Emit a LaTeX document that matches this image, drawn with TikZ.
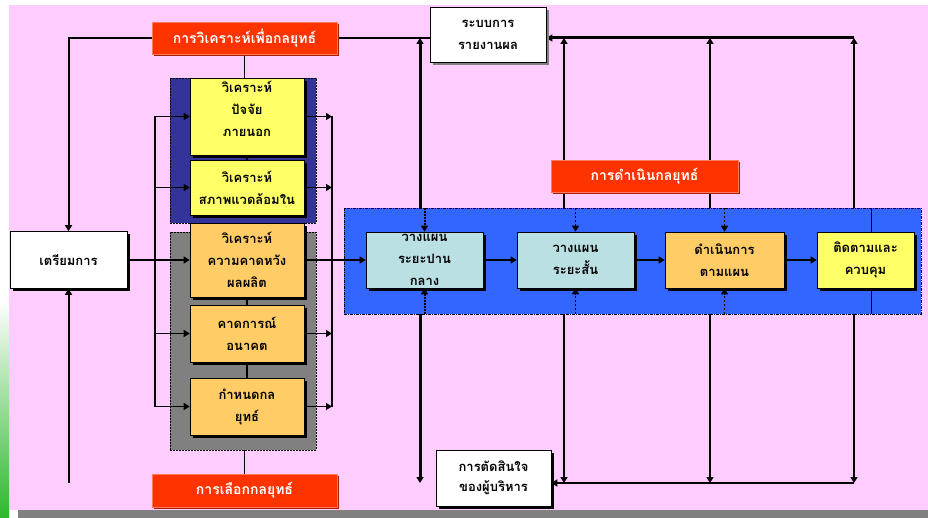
\documentclass[tikz,border=0pt]{standalone}
\usepackage{fontspec}
\setmainfont[Script=Thai]{Loma}
\usetikzlibrary{arrows.meta,shadows}
\definecolor{pinkbg}{HTML}{FFCCFF}
\definecolor{redbox}{HTML}{FF3300}
\definecolor{redrim}{HTML}{FF7A5C}
\definecolor{redshadow}{HTML}{A81C00}
\definecolor{navyframe}{HTML}{333399}
\definecolor{grayframe}{HTML}{808080}
\definecolor{yellowbox}{HTML}{FFFF66}
\definecolor{orangebox}{HTML}{FFCC66}
\definecolor{cyanbox}{HTML}{BBE0E3}
\definecolor{bluezone}{HTML}{3366FF}
\definecolor{leafgreen}{HTML}{2DB82D}
\pgfdeclarelayer{bg}
\pgfdeclarelayer{frames}
\pgfdeclarelayer{lines}
\pgfsetlayers{bg,frames,lines,main}
\tikzset{
  arr/.style={-{Triangle[length=6pt,width=7pt]}},
  blackshadow/.style={drop shadow={fill=black,opacity=1,shadow xshift=3pt,shadow yshift=-3pt}},
  textbox/.style={inner sep=0pt,align=center,font=\fontsize{13}{22}\selectfont\bfseries,
                  draw=black,line width=0.6pt,blackshadow},
  ybox/.style={textbox,fill=yellowbox},
  obox/.style={textbox,fill=orangebox},
  cbox/.style={textbox,fill=cyanbox},
  wbox/.style={textbox,fill=white},
  redtitle/.style={inner sep=0pt,align=center,fill=redbox,draw=redrim,line width=0.8pt,
                   text=white,font=\fontsize{14}{16}\selectfont\bfseries,
                   minimum height=32pt,
                   drop shadow={fill=redshadow,opacity=1,shadow xshift=2pt,shadow yshift=-2pt}},
  frame/.style={inner sep=0pt,draw=black,line width=0.8pt,dash pattern=on 2pt off 1pt},
}
\begin{document}
\begin{tikzpicture}[x=1pt,y=-1pt]
\useasboundingbox (0,0) rectangle (928,518);
\begin{pgfonlayer}{bg}
  \fill[white] (0,0) rectangle (928,518);
  \fill[pinkbg] (9,5) rectangle (928,510);
  \fill[grayframe] (18,510) rectangle (928,518);
  \shade[top color=white,bottom color=leafgreen] (0,300) rectangle (9,518);
\end{pgfonlayer}

% group frames and the blue zone
\begin{pgfonlayer}{frames}
  \node[frame,fill=navyframe,minimum width=146pt,minimum height=145pt] (BF) at (243,150.5) {};
  \node[frame,fill=grayframe,minimum width=146pt,minimum height=218pt] (GF) at (243,341) {};
  \node[inner sep=0pt,fill=bluezone,draw=black,line width=0.8pt,dash pattern=on 3pt off 1pt on 1pt off 1pt,
        minimum width=577pt,minimum height=106pt] (BL) at (632.5,261) {};
\end{pgfonlayer}

% titles
\node[redtitle,minimum width=185pt] (TR) at (244.5,38) {การวิเคราะห์เพื่อกลยุทธ์};
\node[redtitle,minimum width=187pt] (MR) at (644.5,176) {การดำเนินกลยุทธ์};
\node[redtitle,minimum width=185pt,minimum height=33pt] (BR) at (244.5,490.5) {การเลือกกลยุทธ์};

% white boxes
\node[wbox,minimum width=116pt,minimum height=55pt,
      drop shadow={fill=grayframe,opacity=1,shadow xshift=3pt,shadow yshift=-3pt}] (TW) at (488,34.5) {ระบบการ\\รายงานผล};
\node[wbox,minimum width=115pt,minimum height=56pt,font=\fontsize{13}{20}\selectfont\bfseries] (BW) at (493.5,478) {การตัดสินใจ\\ของผู้บริหาร};
\node[wbox,minimum width=117pt,minimum height=57pt] (LW) at (68.5,260) {เตรียมการ};

% left stack
\node[ybox,minimum width=114pt,minimum height=77pt] (Y1) at (247,116.5) {วิเคราะห์\\ปัจจัย\\ภายนอก\\[-6pt]\mbox{}};
\node[ybox,minimum width=114pt,minimum height=55pt] (Y2) at (247,187.5) {วิเคราะห์\\สภาพแวดล้อมใน};
\node[obox,minimum width=114pt,minimum height=74pt] (O3) at (247,260) {วิเคราะห์\\ความคาดหวัง\\ผลผลิต};
\node[obox,minimum width=114pt,minimum height=57pt] (O4) at (247,333.5) {คาดการณ์\\อนาคต};
\node[obox,minimum width=114pt,minimum height=57pt] (O5) at (247,406.5) {กำหนดกล\\ยุทธ์};

% process row
\node[cbox,minimum width=117pt,minimum height=56pt] (A) at (424.5,260) {วางแผน\\ระยะปาน\\กลาง};
\node[cbox,minimum width=117pt,minimum height=56pt] (B) at (575.5,260) {วางแผน\\ระยะสั้น};
\node[obox,minimum width=119pt,minimum height=56pt] (C) at (724.5,260) {ดำเนินการ\\ตามแผน};
\node[ybox,minimum width=97pt,minimum height=56pt] (D) at (865.5,260) {ติดตามและ\\ควบคุม};

% helper coordinates
\coordinate (lb) at (155,0);
\coordinate (rb) at (332,0);
\coordinate (a1) at (420,38);
\coordinate (v1) at (564,38);
\coordinate (v2) at (710,38);
\coordinate (v3) at (854,38);
\coordinate (a1b) at (420,483);
\coordinate (v1b) at (564,483);
\coordinate (v2b) at (710,483);
\coordinate (v3b) at (854,483);
\coordinate (lvb) at (68.5,483);
\coordinate (dx) at (871,0);

\begin{pgfonlayer}{lines}
  % left loop
  \draw[arr,line width=2pt] (TR.west) -| (LW.north);
  \draw[arr,line width=2pt] (lvb) -- (LW.south);
  % title links
  \draw[line width=1.5pt] (TR.south) -- (BF.north -| TR.south);
  \draw[line width=1.5pt] (GF.south -| BR.north) -- (BR.north);
  \draw[line width=1.5pt] (Y1.south) -- (Y2.north);
  \draw[line width=1.5pt] (O3.south) -- (O4.north);
  \draw[line width=1.5pt] (O4.south) -- (O5.north);
  % left bus
  \draw[line width=2pt] (Y1.west -| lb) -- (O5.west -| lb);
  \draw[arr,line width=1.2pt] (LW.east) -- (O3.west);
  \foreach \b in {Y1,Y2,O4,O5} \draw[arr,line width=1.2pt] (\b.west -| lb) -- (\b.west);
  % right bus
  \draw[line width=2pt] (Y1.east -| rb) -- (O5.east -| rb);
  \foreach \b in {Y1,Y2,O4,O5} \draw[arr,line width=1.2pt] (\b.east) -- (\b.east -| rb);
  \draw[arr,line width=1.2pt] (O3.east) -- (A.west);
  % process flow
  \draw[arr,line width=1.2pt] (A.east) -- (B.west);
  \draw[arr,line width=1.2pt] (B.east) -- (C.west);
  \draw[arr,line width=1.2pt] (C.east) -- (D.west);
  % top feedback
  \draw[line width=2.5pt] (TR.east) -- (TR.east -| TW.west);
  \draw[arr,line width=3pt] (v3) -- (TW.east |- v3);
  \draw[arr,line width=3pt] (a1 |- BL.north) -- (a1);
  \draw[arr,line width=2.5pt] (v1 |- BL.north) -- (v1);
  \draw[arr,line width=2pt] (v2 |- BL.north) -- (v2);
  \draw[arr,line width=2pt] (v3 |- BL.north) -- (v3);
  % bottom feedback
  \draw[arr,line width=2pt] (v3b) -- (BW.east |- v3b);
  \draw[arr,line width=3pt] (a1 |- BL.south) -- (a1b);
  \draw[arr,line width=2.5pt] (v1 |- BL.south) -- (v1b);
  \draw[arr,line width=2pt] (v2 |- BL.south) -- (v2b);
  \draw[arr,line width=2pt] (v3 |- BL.south) -- (v3b);
  % connectors inside the blue zone
  \draw[arr,line width=2pt,dash pattern=on 2pt off 1pt] (A.north |- BL.north) -- (A.north);
  \draw[arr,line width=2pt,dash pattern=on 2pt off 1pt] (A.south |- BL.south) -- (A.south);
  \foreach \b in {B,C} {
    \draw[arr,line width=1.5pt,dash pattern=on 2pt off 2pt] (\b.north |- BL.north) -- (\b.north);
    \draw[arr,line width=1.5pt,dash pattern=on 2pt off 2pt] (\b.south |- BL.south) -- (\b.south);
  }
  \draw[line width=1pt] (dx |- BL.north) -- (dx |- D.north);
  \draw[line width=1pt] (dx |- D.south) -- (dx |- BL.south);
\end{pgfonlayer}
\end{tikzpicture}
\end{document}
